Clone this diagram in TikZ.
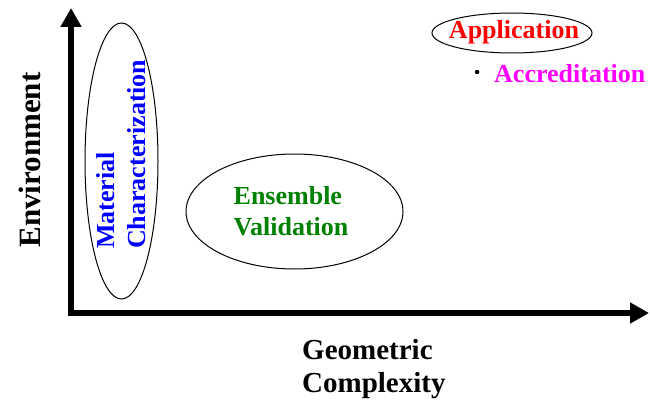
\documentclass[tikz,border=0pt]{standalone}
\usepackage{fontspec}
\setmainfont{Liberation Serif}
\usetikzlibrary{arrows.meta,shapes.geometric}
\definecolor{ensgreen}{RGB}{0,128,0}
\definecolor{accmag}{RGB}{255,0,255}
\definecolor{appred}{RGB}{255,0,0}
\definecolor{matblue}{RGB}{0,0,255}
\begin{document}
\begin{tikzpicture}[x=1pt,y=-1pt,
  axis/.style={line width=6pt,line join=miter,{Triangle[width=20pt,length=19pt]}-{Triangle[width=20pt,length=19pt]}},
  oval/.style={ellipse,draw,line width=1pt,inner sep=0pt},
  bigtxt/.style={font=\bfseries\fontsize{29}{33}\selectfont,inner sep=0pt},
  txt/.style={font=\bfseries\fontsize{26}{30.5}\selectfont,inner sep=0pt}]
\useasboundingbox (0,0) rectangle (650,404);
% axes
\coordinate (ytop) at (71,8);
\coordinate (O) at (71,313);
\coordinate (xend) at (649,313);
\draw[axis] (ytop) -- (O) -- (xend);
% axis labels
\node[font=\bfseries\fontsize{31}{35}\selectfont,inner sep=0pt,rotate=90,anchor=base] (env) at (40,160) {Environment};
\node[bigtxt,align=left,anchor=north west] (geo) at (302,339) {Geometric\\Complexity};
% ellipses
\node[oval,minimum width=73pt,minimum height=276pt] (matoval) at (121.5,161) {};
\node[txt,text=matblue,rotate=90,align=left,anchor=west] (mat) at (121,249) {Material\\Characterization};
\node[oval,minimum width=217pt,minimum height=115pt] (ensoval) at (294.5,211.5) {};
\node[txt,text=ensgreen,align=left] (ens) at (291,211) {Ensemble\\Validation};
\node[oval,minimum width=160pt,minimum height=40pt] (appoval) at (512,33) {};
\node[txt,text=appred,anchor=base] (app) at (514,39) {Application};
\fill (477,72) circle (2.2pt);
\node[txt,text=accmag,anchor=base west] (acc) at (494,82) {Accreditation};
\end{tikzpicture}
\end{document}
